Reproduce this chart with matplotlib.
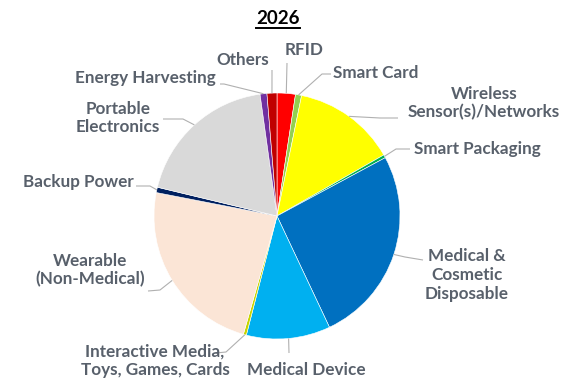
import numpy as np
import matplotlib
matplotlib.use('Agg')
from matplotlib import pyplot as plt

# Market share by application, 2026 (percent), clockwise from 12 o'clock
segments = ['RFID', 'Smart Card', 'Wireless\nSensor(s)/Networks', 'Smart Packaging',
            'Medical &\nCosmetic\nDisposable', 'Medical Device',
            'Interactive Media,\nToys, Games, Cards', 'Wearable\n(Non-Medical)',
            'Backup Power', 'Portable\nElectronics', 'Energy Harvesting', 'Others']
share = [2.4, 0.8, 13.5, 0.4, 25.8, 11.0, 0.4, 23.6, 0.7, 19.0, 0.9, 1.3]
colors = ['#FF0000', '#92D050', '#FFFF00', '#00B050', '#0070C0', '#00B0F0',
          '#C8D400', '#FBE5D6', '#002060', '#D9D9D9', '#7030A0', '#C00000']

# label text position, elbow point, line end (pixel coords, y down)
label_pos = [(304, 50), (376, 73), (484, 103), (477, 149), (467, 275), (306, 370),
             (155, 361), (90, 270), (78, 182), (118, 118), (145, 78), (243, 60)]
elbows = [(287, 63), (322, 74), (380, 118), (396, 149), (405, 257), (289, 353),
          (226, 352), (160, 290), (150, 186), (183, 119), (224, 84), (272, 70)]
ends = [(287, 63), (331, 74), (398, 118), (410, 149), (423, 260), (289, 353),
        (216, 353), (148, 291), (136, 186), (163, 119), (220, 84), (272, 70)]

W, H = 562, 390
cx, cy, r = 277, 216, 123
txt_color = '#58606B'
plt.rcParams['font.family'] = ['Lato', 'DejaVu Sans']

fig = plt.figure(figsize=(W / 100, H / 100), dpi=100)
ax = fig.add_axes([0, 0, 1, 1])
wedges, _ = ax.pie(share, colors=colors, startangle=90, counterclock=False,
                   center=(cx, H - cy), radius=r,
                   wedgeprops=dict(edgecolor='white', linewidth=0.4))
ax.set_xlim(0, W)
ax.set_ylim(0, H)
ax.set_aspect('equal')
ax.axis('off')

total = sum(share)
theta = 0.0
for i, name in enumerate(segments):
    mid = np.radians(theta + share[i] / total * 180)
    theta += share[i] / total * 360
    rx, ry = cx + r * np.sin(mid), H - (cy - r * np.cos(mid))
    ex, ey = elbows[i]
    tx, ty = ends[i]
    ax.plot([rx, ex, tx], [ry, H - ey, H - ty], color='#B0B0B0', lw=0.8,
            solid_capstyle='butt', zorder=1)
    lx, ly = label_pos[i]
    ax.text(lx, H - ly, name, ha='center', va='center', color=txt_color,
            fontsize=12.3, fontweight='bold', linespacing=1.2)

title = ax.text(cx + 1, H - 18, '2026', ha='center', va='center', color='black',
                fontsize=13.5, fontweight='bold')
fig.canvas.draw()
bb = title.get_window_extent().transformed(ax.transData.inverted())
ax.plot([bb.x0, bb.x1], [bb.y0 - 1, bb.y0 - 1], color='black', lw=1.4)

fig.savefig('out.png', dpi=100, facecolor='white')
